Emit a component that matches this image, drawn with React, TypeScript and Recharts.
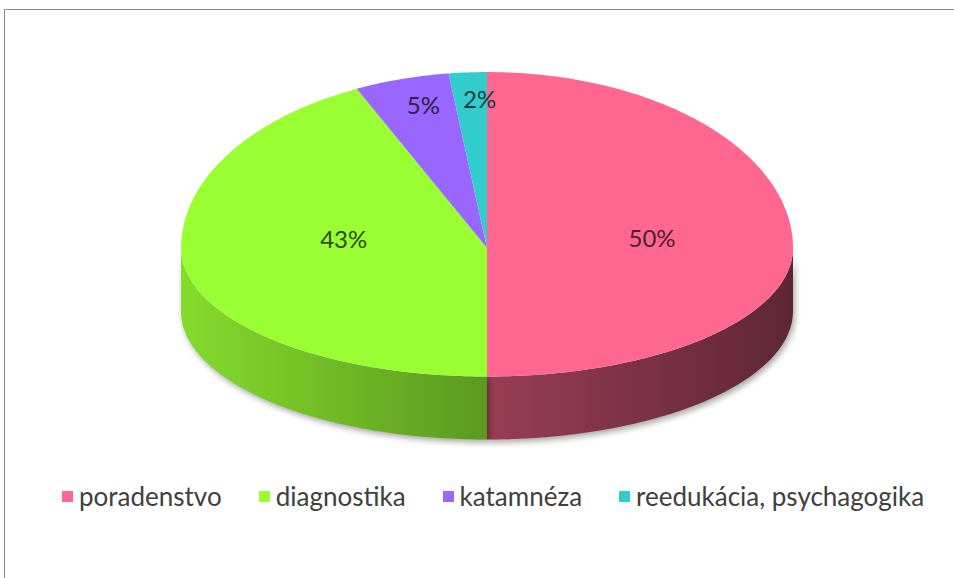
import { PieChart, Pie, Cell, Legend } from 'recharts';

const categories = ['poradenstvo', 'diagnostika', 'katamnéza', 'reedukácia, psychagogika'];
const shares = [50, 43, 5, 2];
const colors = ['#ff6690', '#99ff33', '#9966ff', '#33cccc'];

const data = categories.map((name, i) => ({ name, value: shares[i] }));

const RAD = Math.PI / 180;
// perspective: back half of the disc is taller than the front half
const TOP_K = 0.575;
const BOT_K = 0.42;
const DEPTH = 63;

function shade(hex: string, k: number) {
  const n = parseInt(hex.slice(1), 16);
  const c = [(n >> 16) & 255, (n >> 8) & 255, n & 255].map((v) => Math.max(0, Math.min(255, Math.round(v * k))));
  return `rgb(${c[0]},${c[1]},${c[2]})`;
}

function pt(cx: number, cy: number, r: number, deg: number): [number, number] {
  const s = Math.sin(deg * RAD);
  const ry = s > 0 ? r * TOP_K : r * BOT_K;
  return [cx + r * Math.cos(deg * RAD), cy - ry * s];
}

function arcPts(cx: number, cy: number, r: number, a: number, b: number) {
  const n = Math.max(2, Math.ceil(Math.abs(b - a)));
  const out: [number, number][] = [];
  for (let i = 0; i <= n; i++) out.push(pt(cx, cy, r, a + ((b - a) * i) / n));
  return out;
}

function Slice3D(props: any) {
  const { cx, cy, outerRadius: r, startAngle, endAngle, fill, index } = props;
  const lo = Math.min(startAngle, endAngle);
  const hi = Math.max(startAngle, endAngle);
  const sides: string[] = [];
  for (const k of [-1, 0, 1]) {
    const a = Math.max(lo, -180 + k * 360);
    const b = Math.min(hi, 0 + k * 360);
    if (b > a) {
      const top = arcPts(cx, cy, r, a, b);
      const bot = top.slice().reverse().map(([x, y]) => [x, y + DEPTH]);
      sides.push('M' + top.concat(bot as any).map((p) => p.join(',')).join('L') + 'Z');
    }
  }
  const face = arcPts(cx, cy, r, startAngle, endAngle);
  const faceD = `M${cx},${cy}L` + face.map((p) => p.join(',')).join('L') + 'Z';
  const gid = `side-grad-${index}`;
  return (
    <g>
      <defs>
        <linearGradient id={gid} gradientUnits="userSpaceOnUse" x1={cx - r} y1={0} x2={cx + r} y2={0}>
          <stop offset="0" stopColor={shade(fill, 0.86)} />
          <stop offset="0.5" stopColor={shade(fill, 0.6)} />
          <stop offset="1" stopColor={shade(fill, 0.37)} />
        </linearGradient>
        <filter id={`sh-${index}`} x="-10%" y="-30%" width="120%" height="160%">
          <feGaussianBlur stdDeviation="3" />
        </filter>
      </defs>
      {sides.map((d, i) => (
        <path key={'s' + i} d={d} fill="#000" opacity={0.35} transform="translate(2,3)" filter={`url(#sh-${index})`} />
      ))}
      {sides.map((d, i) => (
        <path key={i} d={d} fill={`url(#${gid})`} stroke="none" />
      ))}
      <path d={faceD} fill={fill} stroke="none" />
    </g>
  );
}

function renderLabel(props: any) {
  const { cx, cy, midAngle, percent, outerRadius: r, index } = props;
  const small = percent < 0.1;
  const f = small ? 0.85 : 0.51;
  const s = Math.sin(midAngle * RAD);
  const x = cx + 9 + r * f * Math.cos(midAngle * RAD);
  const y = small ? cy - r * TOP_K * f * s : cy - 11 - (s > 0 ? r * TOP_K : r * BOT_K * 0.1) * f * s;
  return (
    <text x={x} y={y} textAnchor="middle" dominantBaseline="central" fontSize={24} fontFamily="Lato, 'Open Sans', sans-serif" fill={shade(colors[index], 0.3)}>
      {`${Math.round(percent * 100)}%`}
    </text>
  );
}

function LegendRow({ payload }: any) {
  const items = (payload || []).slice().sort((a: any, b: any) => categories.indexOf(a.value) - categories.indexOf(b.value));
  return (
    <div style={{ display: 'flex', alignItems: 'center', whiteSpace: 'nowrap', fontFamily: "Lato, 'Open Sans', sans-serif", fontSize: 26, color: '#404040' }}>
      {items.map((p: any, i: number) => (
        <div key={i} style={{ display: 'flex', alignItems: 'center', marginRight: 37, flexShrink: 0 }}>
          <span style={{ width: 11, height: 11, background: p.color, marginRight: 6, display: 'inline-block' }} />
          <span>{p.value}</span>
        </div>
      ))}
    </div>
  );
}

export default function App() {
  return (
    <div style={{ position: 'absolute', left: 0, top: 0, width: 954, height: 578, overflow: 'hidden', background: '#fff' }}>
      <div style={{ position: 'absolute', left: 4, top: 9, width: 1000, height: 700, borderTop: '1px solid #8a8a8a', borderLeft: '1px solid #8a8a8a' }} />
      <PieChart width={954} height={578} margin={{ top: 0, right: 0, bottom: 0, left: 0 }}>
        <Pie
          data={data}
          dataKey="value"
          nameKey="name"
          cx={487}
          cy={248}
          outerRadius={306}
          startAngle={90}
          endAngle={-270}
          stroke="none"
          shape={Slice3D}
          label={renderLabel}
          labelLine={false}
          isAnimationActive={false}
        >
          {data.map((d, i) => (
            <Cell key={d.name} fill={colors[i]} />
          ))}
        </Pie>
        <Legend content={<LegendRow />} wrapperStyle={{ position: 'absolute', top: 480, left: 62, width: 890 }} />
      </PieChart>
    </div>
  );
}
